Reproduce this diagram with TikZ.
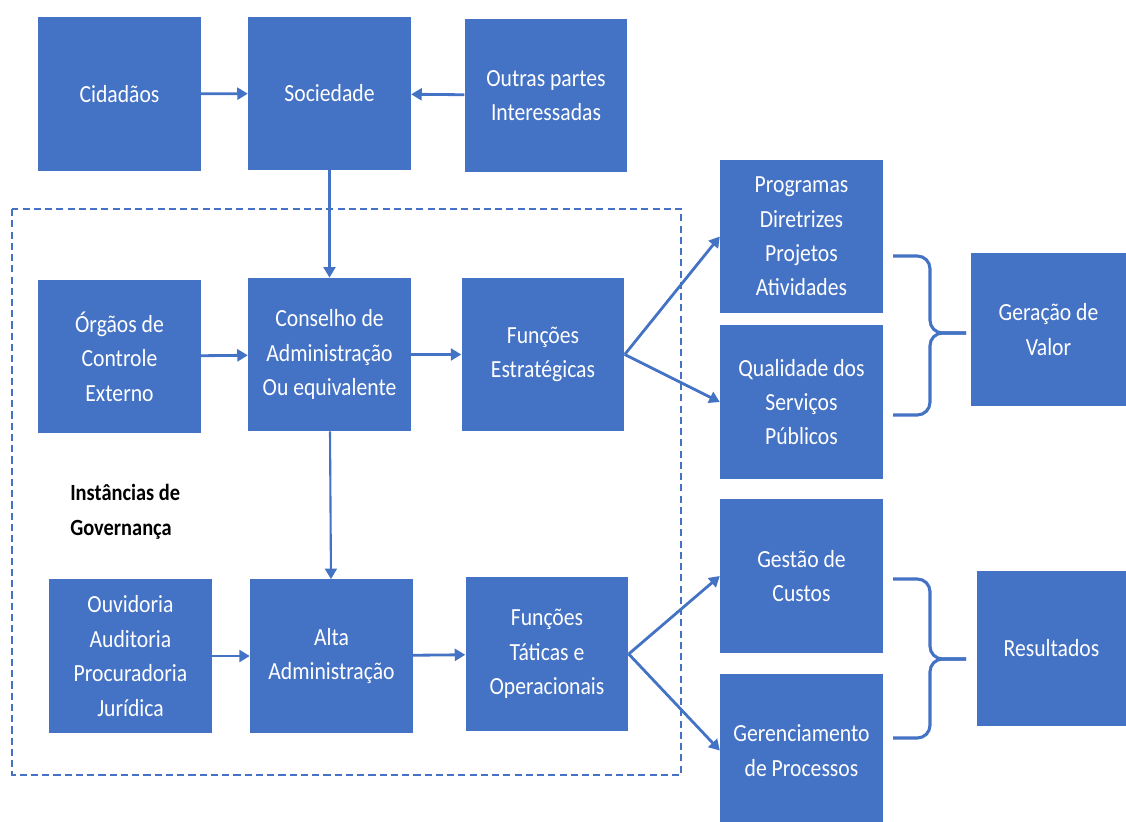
\documentclass[tikz,border=0pt]{standalone}
\usepackage{fontspec}
\setmainfont[FakeStretch=0.88]{Carlito}
\usepackage{xcolor}
\definecolor{azul}{RGB}{68,114,196}
\usetikzlibrary{arrows.meta}

\begin{document}
\begin{tikzpicture}[x=0.025cm, y=-0.025cm,
    caixa/.style={fill=azul, text=white, align=center, inner sep=0pt, minimum width=4.07cm, minimum height=3.83cm, font=\fontsize{17.5}{24.5}\selectfont},
    seta/.style={azul, line width=2pt, -{Triangle[length=7.5pt,width=8.5pt]}},
    chave/.style={azul, line width=2.2pt, rounded corners=9pt}]
    \useasboundingbox (0,0) rectangle (1126,822);
    \draw[azul, line width=1pt, dash pattern=on 5pt off 3pt] (12,209) rectangle (681,775);
    \node[caixa] (cid) at (119.5,94) {Cidadãos};
    \node[caixa] (soc) at (329.5,93.5) {Sociedade};
    \node[caixa] (outras) at (546,95.5) {Outras partes\\Interessadas};
    \node[caixa] (orgaos) at (119.5,356.5) {Órgãos de\\Controle\\Externo};
    \node[caixa] (conselho) at (329.5,354.5) {Conselho de\\Administração\\Ou equivalente};
    \node[caixa] (estr) at (543,354.5) {Funções\\Estratégicas};
    \node[caixa] (ouv) at (130.5,656) {Ouvidoria\\Auditoria\\Procuradoria\\Jurídica};
    \node[caixa] (alta) at (331.5,656) {Alta\\Administração};
    \node[caixa] (tat) at (547,654) {Funções\\Táticas e\\Operacionais};
    \node[caixa] (prog) at (801.5,236.5) {Programas\\Diretrizes\\Projetos\\Atividades};
    \node[caixa] (qual) at (801.5,402) {Qualidade dos\\Serviços\\Públicos};
    \node[caixa] (gestao) at (801.5,576) {Gestão de\\Custos};
    \node[caixa] (geren) at (801.5,750.5) {Gerenciamento\\de Processos};
    \node[caixa, minimum width=3.88cm] (valor) at (1048.5,329.5) {Geração de\\Valor};
    \node[caixa, minimum width=3.73cm, minimum height=3.88cm] (result) at (1051.5,648.5) {Resultados};
    \node[font=\bfseries\fontsize{16.5}{24.5}\selectfont, align=left, anchor=west, inner sep=0pt] (inst) at (70,512) {Instâncias de\\Governança};
    \draw[seta] (cid) -- (soc);
    \draw[seta] (outras) -- (soc);
    \draw[seta, line width=1.5pt] (soc) -- (conselho);
    \draw[seta] (orgaos) -- (conselho);
    \draw[seta] (conselho) -- (estr);
    \draw[seta, line width=1.5pt] (conselho) -- (alta);
    \draw[seta] (ouv) -- (alta);
    \draw[seta] (alta) -- (tat);
    \draw[seta] (estr.east) -- (prog.west);
    \draw[seta] (estr.east) -- (qual.west);
    \draw[seta] (tat.east) -- (gestao.west);
    \draw[seta] (tat.east) -- (geren.west);
    \coordinate (c1) at (893,256);
    \coordinate (c2) at (893,415);
    \coordinate (m1) at (930,333);
    \coordinate (p1) at (966,333);
    \draw[chave] (c1) -| (m1) -- (p1);
    \draw[chave] (c2) -| (m1) -- (p1);
    \coordinate (c3) at (893,579);
    \coordinate (c4) at (893,738);
    \coordinate (m2) at (930,659);
    \coordinate (p2) at (966,659);
    \draw[chave] (c3) -| (m2) -- (p2);
    \draw[chave] (c4) -| (m2) -- (p2);
\end{tikzpicture}
\end{document}
